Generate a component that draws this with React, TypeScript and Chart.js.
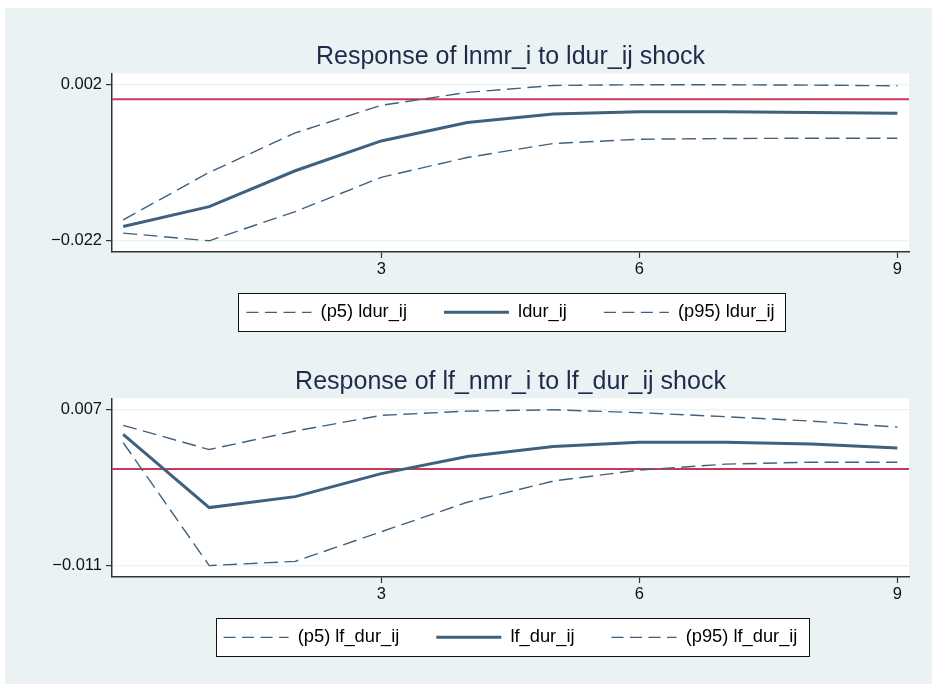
import React, { useEffect, useRef } from "react";
import { Chart, registerables } from "chart.js";

Chart.register(...registerables);

// ---------- data ----------
const steps = [0, 1, 2, 3, 4, 5, 6, 7, 8, 9];
const xRange = [-0.13, 9.135];
const xTicks = [3, 6, 9];
const xTickLabels = ["3", "6", "9"];
const zeroLine = [0, 0];

const p1Title = "Response of lnmr_i to ldur_ij shock";
const p1Labels = ["(p5) ldur_ij", "ldur_ij", "(p95) ldur_ij"];
const p1Lower = [-0.0208, -0.022, -0.01746, -0.01213, -0.00904, -0.00687, -0.00621, -0.0061, -0.00605, -0.00605];
const p1Irf = [-0.01978, -0.01668, -0.01111, -0.00647, -0.00362, -0.00229, -0.00192, -0.00192, -0.00207, -0.00218];
const p1Upper = [-0.01874, -0.01136, -0.00523, -0.00094, 0.00107, 0.00215, 0.00226, 0.00226, 0.0022, 0.0021];
const p1YTicks = [-0.022, 0.00226];
const p1YTickLabels = ["\u22120.022", "0.002"];
const p1YRange = [-0.02374, 0.00401];

const p2Title = "Response of lf_nmr_i to lf_dur_ij shock";
const p2Labels = ["(p5) lf_dur_ij", "lf_dur_ij", "(p95) lf_dur_ij"];
const p2Lower = [0.00307, -0.01115, -0.01066, -0.00724, -0.00383, -0.00138, -0.00011, 0.00057, 0.0008, 0.0008];
const p2Irf = [0.00402, -0.00445, -0.00318, -0.00052, 0.00146, 0.00261, 0.0031, 0.0031, 0.00291, 0.00245];
const p2Upper = [0.00506, 0.00226, 0.0044, 0.00621, 0.0067, 0.00686, 0.00652, 0.00606, 0.00555, 0.00486];
const p2YTicks = [-0.01115, 0.00686];
const p2YTickLabels = ["\u22120.011", "0.007"];
const p2YRange = [-0.01247, 0.00816];

// ---------- styles ----------
const FONT = "'Liberation Sans', Arial, Helvetica, sans-serif";
const LINE_COLOR = "#3F617E";
const REF_COLOR = "#C8385A";
const BG = "#EAF2F3";
const AXIS_COLOR = "#333333";
const LINE_DASH = [14, 6.5];
const KEY_DASH = [12, 6.5];

type PanelData = {
  title: string;
  labels: string[];
  lower: number[];
  irf: number[];
  upper: number[];
  yTicks: number[];
  yTickLabels: string[];
  yRange: number[];
};

const framePlugin = {
  id: "stataFrame",
  beforeDraw(chart: any) {
    const { ctx, chartArea: a } = chart;
    ctx.save();
    ctx.fillStyle = "#ffffff";
    ctx.fillRect(a.left, a.top, a.right - a.left, a.bottom - a.top);
    const lg = chart.legend;
    if (lg && lg.legendHitBoxes && lg.legendHitBoxes.length) {
      const hb = lg.legendHitBoxes;
      const l = Math.min(...hb.map((h: any) => h.left)) - 8;
      const r = Math.max(...hb.map((h: any) => h.left + h.width)) + 11;
      const t = Math.min(...hb.map((h: any) => h.top)) - 10;
      const b = Math.max(...hb.map((h: any) => h.top + h.height)) + 10;
      const L = Math.round(l) + 0.5;
      const T = Math.round(t) + 0.5;
      const W = Math.round(r - l);
      const H = Math.round(b - t);
      ctx.fillStyle = "#ffffff";
      ctx.fillRect(L, T, W, H);
      ctx.strokeStyle = "#111111";
      ctx.lineWidth = 1;
      ctx.strokeRect(L, T, W, H);
    }
    ctx.restore();
  },
};

function toPoints(values: number[]) {
  return steps.map((s, i) => ({ x: s, y: values[i] }));
}

function buildConfig(p: PanelData): any {
  const dashed = {
    borderColor: LINE_COLOR,
    borderWidth: 1.4,
    borderDash: LINE_DASH,
    pointRadius: 0,
    tension: 0,
    fill: false,
  };
  return {
    type: "line",
    data: {
      datasets: [
        { label: p.labels[0], data: toPoints(p.lower), ...dashed },
        {
          label: p.labels[1],
          data: toPoints(p.irf),
          borderColor: LINE_COLOR,
          borderWidth: 3,
          pointRadius: 0,
          tension: 0,
          fill: false,
        },
        { label: p.labels[2], data: toPoints(p.upper), ...dashed },
        {
          label: "zero",
          data: [
            { x: xRange[0], y: zeroLine[0] },
            { x: xRange[1], y: zeroLine[1] },
          ],
          borderColor: REF_COLOR,
          borderWidth: 2,
          pointRadius: 0,
          fill: false,
        },
      ],
    },
    options: {
      animation: false,
      responsive: false,
      devicePixelRatio: 1,
      layout: { padding: { top: 0, left: 0, right: 23, bottom: 18.5 } },
      plugins: {
        tooltip: { enabled: false },
        title: {
          display: true,
          fullSize: false,
          text: p.title,
          color: "#1E2B4D",
          font: { family: FONT, size: 25, weight: "normal" },
          padding: { top: 42, bottom: 1.5 },
        },
        legend: {
          display: true,
          fullSize: false,
          position: "bottom",
          labels: {
            usePointStyle: true,
            pointStyle: "line",
            pointStyleWidth: 65,
            padding: 37,
            color: "#111111",
            font: { family: FONT, size: 18.3 },
            generateLabels: (chart: any) =>
              chart.data.datasets.slice(0, 3).map((ds: any, i: number) => ({
                text: ds.label,
                datasetIndex: i,
                fillStyle: ds.borderColor,
                strokeStyle: ds.borderColor,
                lineWidth: ds.borderWidth,
                lineDash: ds.borderDash ? KEY_DASH : [],
                pointStyle: "line",
                hidden: false,
              })),
          },
        },
      },
      scales: {
        x: {
          type: "linear",
          min: xRange[0],
          max: xRange[1],
          afterBuildTicks: (ax: any) => {
            ax.ticks = xTicks.map((v) => ({ value: v }));
          },
          afterFit: (ax: any) => {
            ax.height = 14.2;
            // let the tick labels hang below the (thin) axis box
            ax._computeLabelArea = () => undefined;
          },
          grid: {
            drawOnChartArea: false,
            drawTicks: true,
            tickLength: 6,
            tickColor: AXIS_COLOR,
            tickWidth: 1.2,
          },
          border: { display: true, color: AXIS_COLOR, width: 1.5 },
          ticks: {
            callback: (_v: any, i: number) => xTickLabels[i],
            font: { family: FONT, size: 16.5 },
            color: "#111111",
            padding: 2,
            maxRotation: 0,
            autoSkip: false,
          },
        },
        y: {
          type: "linear",
          min: p.yRange[0],
          max: p.yRange[1],
          afterBuildTicks: (ax: any) => {
            ax.ticks = p.yTicks.map((v) => ({ value: v }));
          },
          afterFit: (ax: any) => {
            ax.width = 112;
          },
          grid: {
            color: BG,
            lineWidth: 1.2,
            drawTicks: true,
            tickLength: 6,
            tickColor: AXIS_COLOR,
            tickWidth: 1.2,
          },
          border: { display: true, color: AXIS_COLOR, width: 1.5 },
          ticks: {
            callback: (_v: any, i: number) => p.yTickLabels[i],
            font: { family: FONT, size: 16.5 },
            color: "#111111",
            padding: 4,
            autoSkip: false,
          },
        },
      },
    },
    plugins: [framePlugin],
  };
}

function Panel({ data, top }: { data: PanelData; top: number }) {
  const ref = useRef<HTMLCanvasElement>(null);
  useEffect(() => {
    if (!ref.current) return;
    const chart = new Chart(ref.current, buildConfig(data));
    return () => chart.destroy();
  }, [data]);
  return (
    <canvas
      ref={ref}
      width={932}
      height={350}
      style={{ position: "absolute", left: 0, top, width: 932, height: 350 }}
    />
  );
}

const panel1: PanelData = {
  title: p1Title,
  labels: p1Labels,
  lower: p1Lower,
  irf: p1Irf,
  upper: p1Upper,
  yTicks: p1YTicks,
  yTickLabels: p1YTickLabels,
  yRange: p1YRange,
};

const panel2: PanelData = {
  title: p2Title,
  labels: p2Labels,
  lower: p2Lower,
  irf: p2Irf,
  upper: p2Upper,
  yTicks: p2YTicks,
  yTickLabels: p2YTickLabels,
  yRange: p2YRange,
};

export default function App() {
  return (
    <div style={{ position: "absolute", left: 0, top: 0, width: 932, height: 684, background: "#ffffff", overflow: "hidden" }}>
      <div style={{ position: "absolute", left: 5, top: 8, width: 927, height: 676, background: BG }} />
      <Panel data={panel1} top={0} />
      <Panel data={panel2} top={325} />
    </div>
  );
}
